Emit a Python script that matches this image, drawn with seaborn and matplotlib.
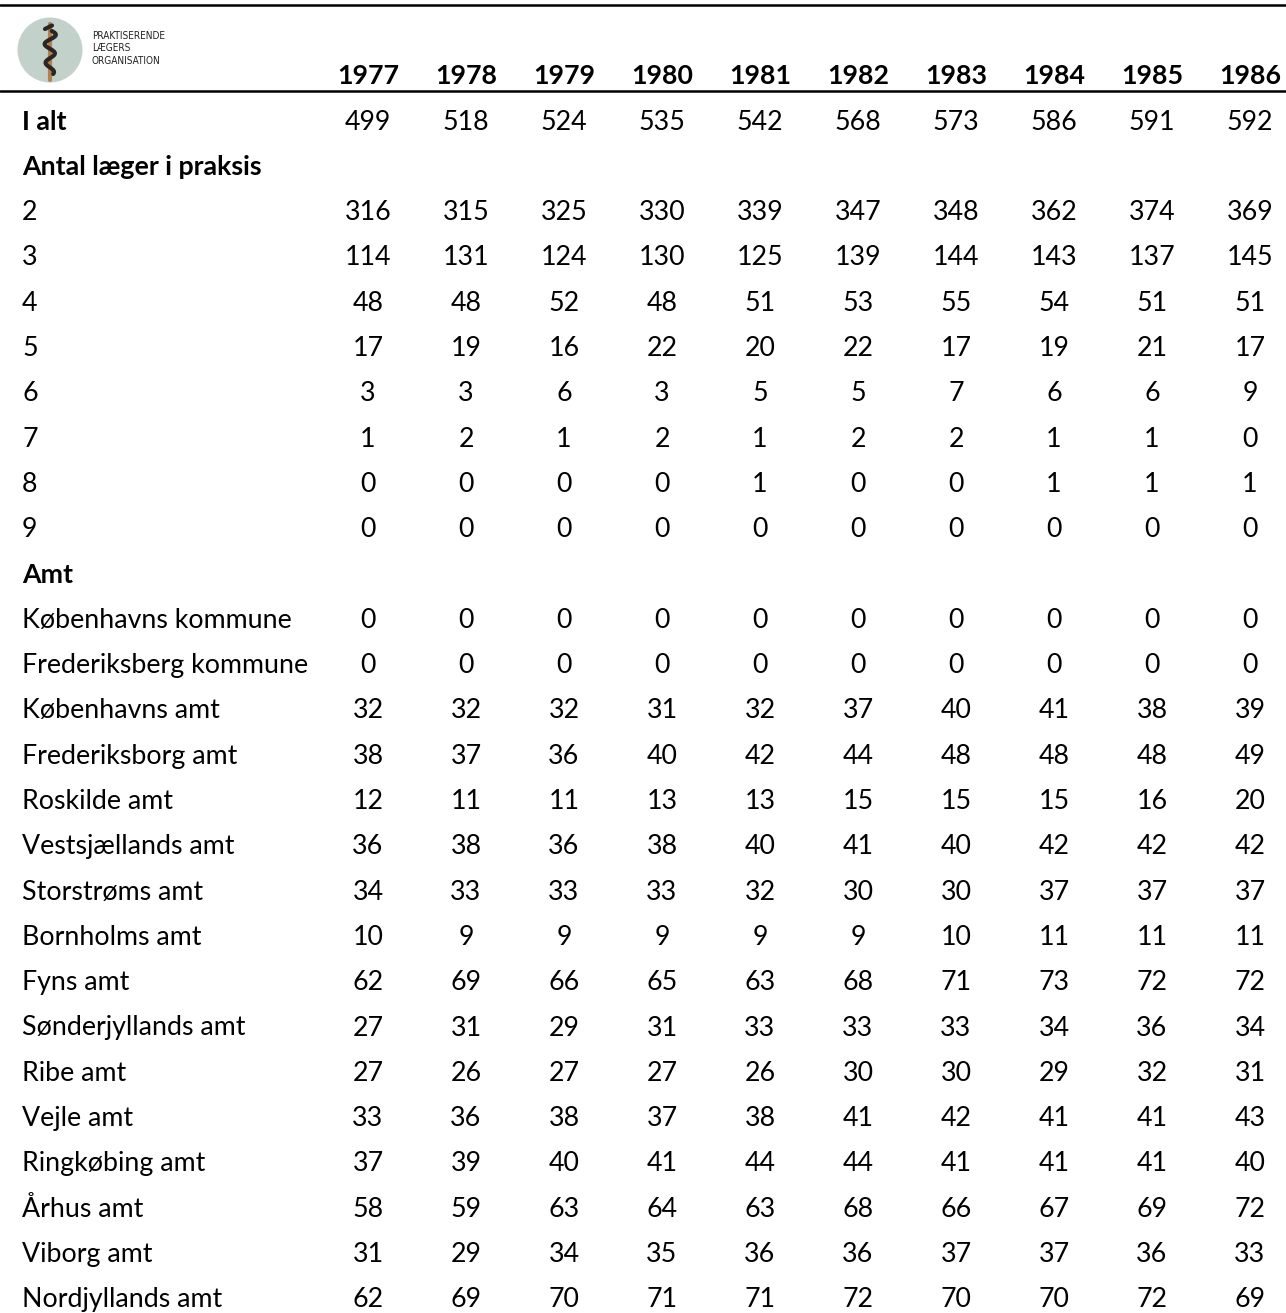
import numpy as np
import pandas as pd
import matplotlib.pyplot as plt
import seaborn as sns
from matplotlib.colors import ListedColormap
from matplotlib.lines import Line2D
from matplotlib.patches import Circle

years = ['1977', '1978', '1979', '1980', '1981', '1982', '1983', '1984', '1985', '1986']

row_labels = ['I alt', 'Antal læger i praksis', '2', '3', '4', '5', '6', '7', '8', '9',
              'Amt', 'Københavns kommune', 'Frederiksberg kommune', 'Københavns amt',
              'Frederiksborg amt', 'Roskilde amt', 'Vestsjællands amt', 'Storstrøms amt',
              'Bornholms amt', 'Fyns amt', 'Sønderjyllands amt', 'Ribe amt', 'Vejle amt',
              'Ringkøbing amt', 'Århus amt', 'Viborg amt', 'Nordjyllands amt']
bold_rows = ['I alt', 'Antal læger i praksis', 'Amt']

i_alt = [499, 518, 524, 535, 542, 568, 573, 586, 591, 592]

# antal laeger i praksis
n2 = [316, 315, 325, 330, 339, 347, 348, 362, 374, 369]
n3 = [114, 131, 124, 130, 125, 139, 144, 143, 137, 145]
n4 = [48, 48, 52, 48, 51, 53, 55, 54, 51, 51]
n5 = [17, 19, 16, 22, 20, 22, 17, 19, 21, 17]
n6 = [3, 3, 6, 3, 5, 5, 7, 6, 6, 9]
n7 = [1, 2, 1, 2, 1, 2, 2, 1, 1, 0]
n8 = [0, 0, 0, 0, 1, 0, 0, 1, 1, 1]
n9 = [0, 0, 0, 0, 0, 0, 0, 0, 0, 0]

# amter
kbh_kommune = [0, 0, 0, 0, 0, 0, 0, 0, 0, 0]
frb_kommune = [0, 0, 0, 0, 0, 0, 0, 0, 0, 0]
kbh_amt = [32, 32, 32, 31, 32, 37, 40, 41, 38, 39]
frederiksborg = [38, 37, 36, 40, 42, 44, 48, 48, 48, 49]
roskilde = [12, 11, 11, 13, 13, 15, 15, 15, 16, 20]
vestsjaelland = [36, 38, 36, 38, 40, 41, 40, 42, 42, 42]
storstroem = [34, 33, 33, 33, 32, 30, 30, 37, 37, 37]
bornholm = [10, 9, 9, 9, 9, 9, 10, 11, 11, 11]
fyn = [62, 69, 66, 65, 63, 68, 71, 73, 72, 72]
soenderjylland = [27, 31, 29, 31, 33, 33, 33, 34, 36, 34]
ribe = [27, 26, 27, 27, 26, 30, 30, 29, 32, 31]
vejle = [33, 36, 38, 37, 38, 41, 42, 41, 41, 43]
ringkoebing = [37, 39, 40, 41, 44, 44, 41, 41, 41, 40]
aarhus = [58, 59, 63, 64, 63, 68, 66, 67, 69, 72]
viborg = [31, 29, 34, 35, 36, 36, 37, 37, 36, 33]
nordjylland = [62, 69, 70, 71, 71, 72, 70, 70, 72, 69]

empty = [np.nan] * len(years)
rows = [i_alt, empty, n2, n3, n4, n5, n6, n7, n8, n9, empty,
        kbh_kommune, frb_kommune, kbh_amt, frederiksborg, roskilde, vestsjaelland,
        storstroem, bornholm, fyn, soenderjylland, ribe, vejle, ringkoebing,
        aarhus, viborg, nordjylland]
df = pd.DataFrame(rows, index=row_labels, columns=years, dtype=float)

sns.set_theme(style='white')
plt.rcParams['font.family'] = ['Lato', 'DejaVu Sans']

W, H = 1286, 1313
fig = plt.figure(figsize=(W / 100, H / 100), dpi=100)

col_w = 98
row_h = 45.3
left_px = 368 - col_w / 2
top_px = 122 - row_h / 2
ax_h = row_h * len(row_labels)
ax = fig.add_axes([left_px / W, 1 - (top_px + ax_h) / H, col_w * len(years) / W, ax_h / H])

fs = 19.3
sns.heatmap(df, ax=ax, annot=True, fmt='.0f', cmap=ListedColormap(['white']),
            cbar=False, linewidths=0, annot_kws={'color': 'black', 'fontsize': fs})
ax.set_xticks([])
ax.set_yticks([])
ax.set_xlabel('')
ax.set_ylabel('')
for s in ax.spines.values():
    s.set_visible(False)

# row labels
x_lab = (22 - left_px) / col_w
for i, lab in enumerate(row_labels):
    ax.text(x_lab, i + 0.5, lab, ha='left', va='center', fontsize=fs, color='black',
            fontweight='bold' if lab in bold_rows else 'normal', clip_on=False)

# year headers
y_head = (76 - top_px) / row_h
for j, yr in enumerate(years):
    ax.text(j + 0.5, y_head, yr, ha='center', va='center', fontsize=fs,
            fontweight='bold', color='black', clip_on=False)

# horizontal rules
for ypx in (5, 91):
    fig.add_artist(Line2D([0, 1], [1 - ypx / H, 1 - ypx / H], color='black', lw=1.8,
                          transform=fig.transFigure))

# logo
lax = fig.add_axes([0, 1 - 100 / H, 180 / W, 100 / H])
lax.set_xlim(0, 180)
lax.set_ylim(100, 0)
lax.axis('off')
lax.add_patch(Circle((50, 50), 32.5, color='#c2d2ca', lw=0))
lax.plot([50, 50], [24, 80], color='#b0804e', lw=3, solid_capstyle='round')
t = np.linspace(0, 1, 80)
sy = 31 + 43 * t
sx = 50 + 6 * np.sin(2 * np.pi * 2.3 * t + 0.3) * (1 - 0.35 * t)
lax.plot(sx, sy, color='#2b2622', lw=3, solid_capstyle='round')
lax.plot([45, 52], [29, 25.5], color='#2b2622', lw=3, solid_capstyle='round')
for txt, yy in [('PRAKTISERENDE', 36), ('LÆGERS', 48), ('ORGANISATION', 61)]:
    lax.text(92, yy, txt, ha='left', va='center', fontsize=7.2, color='#222222',
             family=['DejaVu Sans'], fontstretch='condensed')

fig.savefig('out.png', dpi=100, facecolor='white')
